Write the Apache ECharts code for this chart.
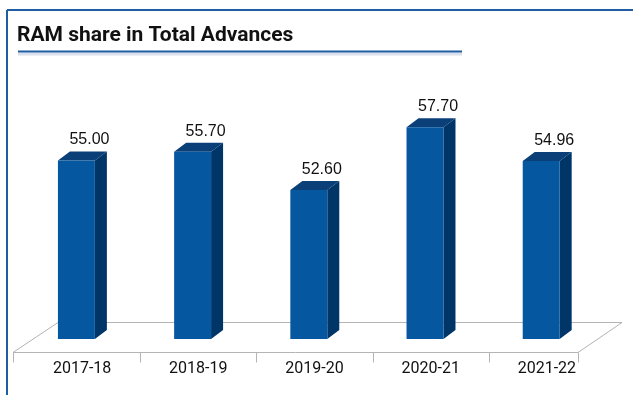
<!DOCTYPE html>
<html>
<head>
<meta charset="utf-8">
<script src="https://cdn.jsdelivr.net/npm/echarts@6/dist/echarts.min.js"></script>
<style>
html,body{margin:0;padding:0;background:#fff;}
#chart{width:633px;height:395px;}
</style>
</head>
<body>
<div id="chart"></div>
<script>
const title = 'RAM share in Total Advances';
const categories = ['2017-18', '2018-19', '2019-20', '2020-21', '2021-22'];
const values = [55.00, 55.70, 52.60, 57.70, 54.96];

const FRONT = '#0558a0', TOP = '#0a3f78', SIDE = '#003567';
const DX = 12, DY = -9;

const chart = echarts.init(document.getElementById('chart'), null, {renderer: 'canvas'});

function renderBar(params, api) {
  const i = api.value(0), v = api.value(1);
  const p = api.coord([i, v]);
  const cs = params.coordSys;
  const bottom = cs.y + cs.height;
  const band = api.size([1, 0])[0];
  const w = band * 0.318;
  const x0 = p[0] - band * 0.208;
  const x1 = x0 + w;
  const t = p[1];
  return {
    type: 'group',
    children: [
      {type: 'polygon', shape: {points: [[x1, t], [x1 + DX, t + DY], [x1 + DX, bottom + DY], [x1, bottom]]}, style: {fill: SIDE}},
      {type: 'polygon', shape: {points: [[x0, t], [x0 + DX, t + DY], [x1 + DX, t + DY], [x1, t]]}, style: {fill: TOP}},
      {type: 'rect', shape: {x: x0, y: t, width: w, height: bottom - t}, style: {fill: FRONT}},
      {type: 'text', x: x0 + DX + w / 2 + 1, y: t + DY - 11.5,
        style: {text: v.toFixed(2), fill: '#111', font: '16px "Liberation Sans", Arial, sans-serif', textAlign: 'center', textVerticalAlign: 'middle'}}
    ]
  };
}

function renderFloor(params, api) {
  const cs = params.coordSys;
  const L = cs.x, R = cs.x + cs.width, B = cs.y + cs.height;
  const band = api.size([1, 0])[0];
  const fy = B + 13.5, by = B - 16.5;
  const fl = L - 11, fr = R - 27, bl = L + 34, br = R + 17;
  const lineStyle = {stroke: '#b4b4b4', lineWidth: 1, fill: null};
  const children = [
    {type: 'polygon', shape: {points: [[fl, fy], [bl, by], [br, by], [fr, fy]]}, style: {fill: '#fff', stroke: '#b4b4b4', lineWidth: 1}}
  ];
  const ticks = [fl];
  for (let k = 1; k < categories.length; k++) {
    ticks.push(api.coord([k, 0])[0] - band / 2);
  }
  ticks.push(fr);
  ticks.forEach(x => {
    const xx = Math.round(x) + 0.5;
    children.push({type: 'line', shape: {x1: xx, y1: fy, x2: xx, y2: fy + 10}, style: lineStyle});
  });
  return {type: 'group', children};
}

chart.setOption({
  animation: false,
  backgroundColor: '#fff',
  title: {
    text: title, left: 17, top: 25, padding: 0,
    textStyle: {fontFamily: 'Roboto, sans-serif', fontWeight: 'bold', fontSize: 21, color: '#111'}
  },
  graphic: [
    {type: 'line', shape: {x1: 7, y1: 10, x2: 633, y2: 10}, style: {stroke: '#1f5ea3', lineWidth: 2}},
    {type: 'line', shape: {x1: 7, y1: 10, x2: 7, y2: 395}, style: {stroke: '#1f5ea3', lineWidth: 2}},
    {type: 'rect', shape: {x: 18, y: 52.5, width: 444, height: 3}, style: {fill: '#dcdfec'}},
    {type: 'line', shape: {x1: 18, y1: 51.5, x2: 462, y2: 51.5}, style: {stroke: '#1f5ea3', lineWidth: 2.2}}
  ],
  grid: {left: 24, right: 28, top: 62, bottom: 56},
  xAxis: {
    type: 'category', data: categories,
    axisLine: {show: false}, axisTick: {show: false},
    axisLabel: {margin: 22, color: '#111', fontSize: 16, fontFamily: 'Roboto, sans-serif'}
  },
  yAxis: {type: 'value', min: 40.5, max: 63, show: false, splitLine: {show: false}},
  series: [
    {type: 'custom', renderItem: renderFloor, data: [[0, 0]], z: 1, silent: true, clip: false},
    {type: 'custom', renderItem: renderBar, data: values.map((v, i) => [i, v]), z: 2, clip: false}
  ]
});
</script>
</body>
</html>
